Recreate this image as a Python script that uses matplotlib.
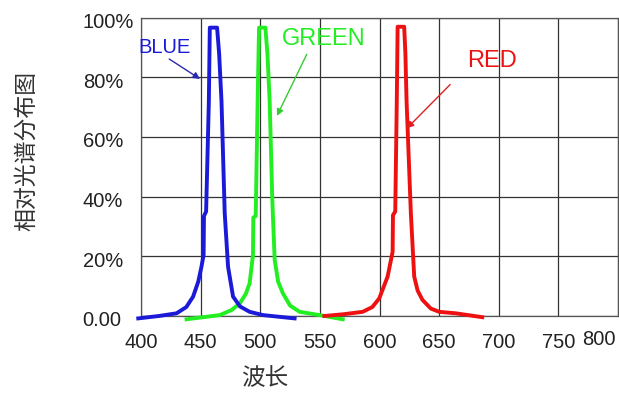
from matplotlib import pyplot as plt
import matplotlib.transforms as mtransforms

plt.rcParams['font.family'] = ['Liberation Sans', 'Noto Sans CJK SC', 'DejaVu Sans']

# wavelength (nm) / relative intensity (%)
blue_x = [397.7, 415, 429.8, 438, 443.7, 448, 450.7, 452.5, 452.8, 454.6, 456.9, 457.7,
          463.8, 465.5, 467.5, 470.2, 473.0, 477.2, 483, 491.1, 502.3, 528.8]
blue_y = [-0.8, 0.0, 0.9, 3.0, 6.5, 11.5, 16.5, 20.4, 33.5, 35.0, 72.0, 96.6,
          96.6, 88, 72.0, 34.5, 16.5, 6.5, 3.2, 1.4, 0.3, -0.8]

green_x = [438.2, 466.0, 476, 482.8, 488, 491.1, 493.9, 494.2, 496.2, 497.8, 499.0,
           504.3, 506, 507.9, 510.1, 512.1, 515, 519.0, 525, 533.0, 549.7, 569.2]
green_y = [-1.1, 0.3, 2.0, 4.2, 7.5, 11.0, 20.4, 33.0, 33.5, 72, 96.6,
           96.6, 88, 72.0, 38.9, 18.8, 11.5, 7.6, 3.5, 1.4, 0.3, -1.1]

red_x = [553.8, 570, 585.9, 594, 599.8, 606.8, 611.0, 611.3, 613.2, 614.5, 615.2,
         620.7, 621.7, 622.7, 626.3, 629.1, 632, 636.0, 643, 650.0, 664.0, 686.2]
red_y = [0.0, 0.6, 1.4, 3.0, 5.9, 13.2, 21.5, 33.8, 35.0, 72, 96.9,
         96.9, 88, 72.0, 34.4, 13.2, 8.5, 5.4, 2.5, 1.4, 0.9, -0.4]

x_ticks = [400, 450, 500, 550, 600, 650, 700, 750]
y_ticks = [0, 20, 40, 60, 80, 100]
y_labels = ["0.00", "20%", "40%", "60%", "80%", "100%"]

fig = plt.figure(figsize=(6.19, 3.96), dpi=100)
ax = fig.add_axes([141 / 619, 80 / 396, 477 / 619, 298.5 / 396])

ax.plot(green_x, green_y, color='#22ee22', lw=2.8, clip_on=False, zorder=3)
ax.plot(blue_x, blue_y, color='#1a1ad8', lw=2.8, clip_on=False, zorder=3)
ax.plot(red_x, red_y, color='#ee1111', lw=2.8, clip_on=False, zorder=3)

ax.set_xlim(400, 800)
ax.set_ylim(0, 100)
ax.set_xticks(x_ticks + [800])
ax.set_xticklabels([str(t) for t in x_ticks] + [""])
ax.set_yticks(y_ticks)
ax.set_yticklabels(y_labels, ha='left')
ax.tick_params(axis='both', length=0, labelsize=14.5, labelcolor='#222222')
ax.tick_params(axis='y', pad=42)
ax.tick_params(axis='x', pad=12)
shift = mtransforms.ScaledTranslation(0, -3 / 100, fig.dpi_scale_trans)
for lab in ax.get_yticklabels():
    lab.set_transform(lab.get_transform() + shift)
ax.text(784, -7.9, "800", ha='center', va='center', fontsize=14.5, color='#222222')

ax.grid(True, color='#333333', lw=0.9)
for s in ax.spines.values():
    s.set_color('#555555')
    s.set_linewidth(0.9)

# labels with arrows
ax.text(419.7, 89.8, "BLUE", ha='center', va='center', fontsize=14.5, color='#1a1ad8')
ax.annotate("", xy=(451.5, 78.9), xytext=(421.7, 86.6),
            arrowprops=dict(arrowstyle='-|>', color='#2a2ab0', lw=1, mutation_scale=10))
ax.text(553.5, 92.7, "GREEN", ha='center', va='center', fontsize=17, color='#22ee22')
ax.annotate("", xy=(513, 66.2), xytext=(540, 88.5),
            arrowprops=dict(arrowstyle='-|>', color='#33cc33', lw=1, mutation_scale=10))
ax.text(694.7, 85.3, "RED", ha='center', va='center', fontsize=17, color='#ee1111')
ax.annotate("", xy=(621.3, 62.2), xytext=(660.9, 78.2),
            arrowprops=dict(arrowstyle='-|>', color='#dd2020', lw=1, mutation_scale=10))

fig.text(27 / 619, 1 - 151 / 396, "相对光谱分布图", rotation=90, ha='center', va='center',
         fontsize=16.5, color='#333333', family=['Noto Sans CJK SC', 'DejaVu Sans'],
         fontweight='light')
fig.text(265 / 619, 1 - 379 / 396, "波长", ha='center', va='center',
         fontsize=17, color='#333333', family=['Noto Sans CJK SC', 'DejaVu Sans'],
         fontweight='light')

fig.savefig("out.png", dpi=100)
